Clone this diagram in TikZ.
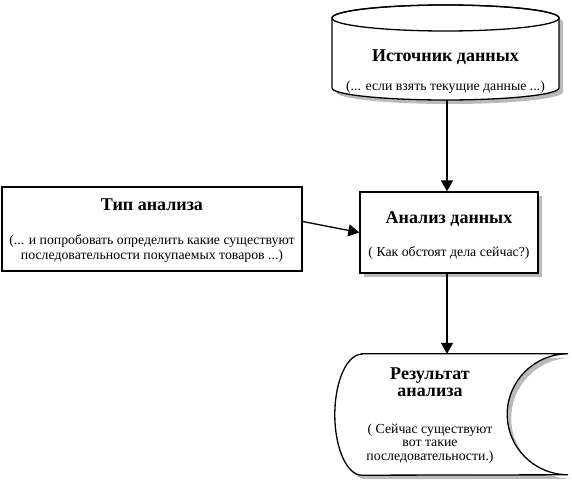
\documentclass[tikz,border=0pt]{standalone}
\usepackage{fontspec}
\setmainfont{Liberation Serif}
\usetikzlibrary{positioning, arrows.meta, shapes.geometric, shadows}
\newcommand{\ttlfont}{\fontsize{18}{17}\selectfont\bfseries}
\newcommand{\subfont}{\fontsize{13.8}{15}\selectfont}

\begin{document}
\begin{tikzpicture}[x=1pt, y=1pt,
    box/.style={rectangle, draw=black, fill=white, line width=1.3pt, inner sep=0pt},
    boxshadow/.style={drop shadow={shadow xshift=4pt, shadow yshift=-4pt,
                  fill=black!45, opacity=0.6}},
    lbl/.style={align=center, inner sep=0pt, font=\subfont},
    arrow/.style={-{Triangle[length=11pt,width=12pt]}, line width=1.3pt}
  ]
    \useasboundingbox (0,0) rectangle (572,488);

    % источник данных (цилиндр)
    \draw[fill=white, line width=1.3pt, boxshadow]
          (332,470) -- (332,400)
          arc[start angle=180, end angle=360, x radius=113.5pt, y radius=12pt]
          -- (559,470)
          arc[start angle=0, end angle=180, x radius=113.5pt, y radius=13pt] -- cycle;
    \draw[line width=1.3pt] (445.5,470) ellipse[x radius=113.5pt, y radius=13pt];
    \coordinate (srcbot) at (447,388);
    \node[lbl] (src) at (445.5,416)
          {\ttlfont Источник данных\\[14pt](... если взять текущие данные ...)};

    % анализ
    \node[box, boxshadow, minimum width=178pt, minimum height=81pt] (ana) at (449,255.5) {};
    \node[lbl] (anatxt) at ([yshift=-3.5pt]ana.center)
          {\ttlfont Анализ данных\\[18pt]( Как обстоят дела сейчас?)};

    \node[box, minimum width=300pt, minimum height=84pt] (typ) at (152,259) {};
    \node[lbl] (typtxt) at ([yshift=-1.5pt]typ.center)
          {\ttlfont Тип анализа\\[19pt](... и попробовать определить какие существуют\\
           последовательности покупаемых товаров ...)};

    % хранимые данные
    \node[minimum width=233pt, minimum height=121pt, inner sep=0pt] (resbox) at (451.5,73.5) {};
    \draw[fill=white, line width=1.3pt, boxshadow]
          ([xshift=27pt]resbox.north west) -- (resbox.north east)
          arc[start angle=90, end angle=270, x radius=61pt, y radius=60.5pt]
          -- ([xshift=27pt]resbox.south west)
          arc[start angle=270, end angle=90, x radius=27pt, y radius=60.5pt] -- cycle;
    \node[lbl] (res) at (430,72.5)
          {\ttlfont Результат\\[2pt]\ttlfont анализа\\[22pt]( Сейчас существуют\\[-1.7pt]вот такие\\[-1.7pt]последовательности.)};

    \draw[arrow] (srcbot) -- (srcbot |- ana.north);
    \draw[arrow] ([yshift=7.5pt]typ.east) -- (ana.west);
    \draw[arrow] (ana.south -| srcbot) -- (srcbot |- resbox.north);
  \end{tikzpicture}
\end{document}
